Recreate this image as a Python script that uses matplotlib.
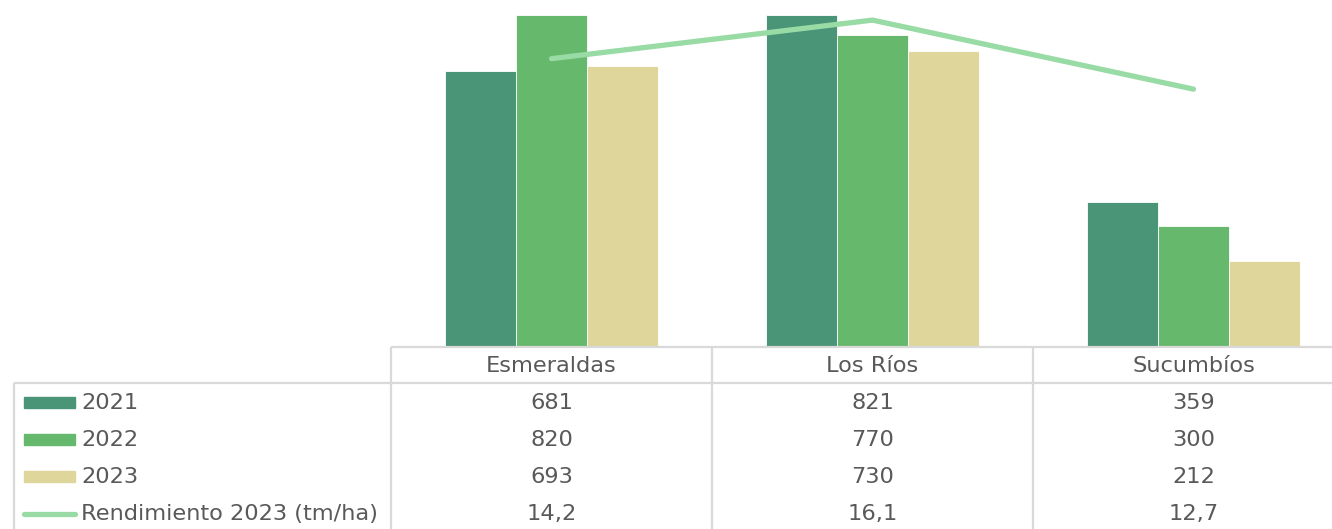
import matplotlib
matplotlib.use("Agg")
import matplotlib.pyplot as plt
from matplotlib.patches import Rectangle
from matplotlib.lines import Line2D
import numpy as np

categories = ["Esmeraldas", "Los Ríos", "Sucumbíos"]
series_names = ["2021", "2022", "2023"]
v2021 = [681, 821, 359]
v2022 = [820, 770, 300]
v2023 = [693, 730, 212]
rend_label = "Rendimiento 2023 (tm/ha)"
rend2023 = [14.2, 16.1, 12.7]

colors = ["#4A9477", "#66B86C", "#DFD69B"]
line_color = "#98DBA4"
grid_color = "#D9D9D9"
text_color = "#595959"

plt.rcParams['font.family'] = ['DejaVu Sans']
FS = 16.2

W, H = 1332, 529
fig = plt.figure(figsize=(W / 100, H / 100), dpi=100)

ax_left = 391 / W
ax_w = (1354 - 391) / W
base_px = 347
ax = fig.add_axes([ax_left, (H - base_px) / H, ax_w, base_px / H])
x = np.arange(len(categories))
bw = 0.222
for i, (vals, c) in enumerate(zip([v2021, v2022, v2023], colors)):
    ax.bar(x + (i - 1) * bw, vals, width=bw, color=c, edgecolor="white", linewidth=0.6, zorder=2)
ax.set_xlim(-0.5, len(categories) - 0.5)
ax.set_ylim(0, 857)
ax.axis("off")

ax2 = ax.twinx()
ax2.plot(x, rend2023, color=line_color, lw=3.8, solid_capstyle="round", solid_joinstyle="miter", zorder=3)
ax2.set_ylim(0, 17.09)
ax2.axis("off")

# data table
tab = fig.add_axes([ax_left, 0, ax_w, (H - base_px) / H])
tab.set_xlim(-0.5, len(categories) - 0.5)
tab.set_ylim(H, base_px)
tab.axis("off")
px_per_cat = (1354 - 391) / len(categories)
left_edge = -0.5 - (391 - 14) / px_per_cat
key_x0 = -0.5 - (391 - 24) / px_per_cat
key_x1 = -0.5 - (391 - 75) / px_per_cat
lkey_x0 = -0.5 - (391 - 24) / px_per_cat
lkey_x1 = -0.5 - (391 - 75) / px_per_cat
label_x = -0.5 - (391 - 81) / px_per_cat

lk = dict(color=grid_color, lw=1.6, clip_on=False, solid_capstyle="butt")
tab.add_line(Line2D([-0.5, len(categories) - 0.5], [347, 347], **lk))
tab.add_line(Line2D([left_edge, len(categories) - 0.5], [383, 383], **lk))
tab.add_line(Line2D([left_edge, left_edge], [383, H + 5], **lk))
for k in range(len(categories)):
    tab.add_line(Line2D([k - 0.5, k - 0.5], [347, H + 5], **lk))

header_y = 366
row_ys = [403, 440, 477, 514]
for k, cat in enumerate(categories):
    tab.text(k, header_y, cat, ha="center", va="center", fontsize=FS, color=text_color)

rows = [v2021, v2022, v2023]
for r, (name, vals, c) in enumerate(zip(series_names, rows, colors)):
    y = row_ys[r]
    tab.add_patch(Rectangle((key_x0, y - 5.5), key_x1 - key_x0, 11, color=c, clip_on=False))
    tab.text(label_x, y, name, ha="left", va="center", fontsize=FS, color=text_color, clip_on=False)
    for k, v in enumerate(vals):
        tab.text(k, y, f"{v}", ha="center", va="center", fontsize=FS, color=text_color)

y = row_ys[3]
tab.add_line(Line2D([lkey_x0, lkey_x1], [y, y], color=line_color, lw=3.8, solid_capstyle="round", clip_on=False))
tab.text(label_x, y, rend_label, ha="left", va="center", fontsize=FS, color=text_color, clip_on=False)
for k, v in enumerate(rend2023):
    tab.text(k, y, f"{v:.1f}".replace(".", ","), ha="center", va="center", fontsize=FS, color=text_color)

fig.savefig("out.png", dpi=100)
